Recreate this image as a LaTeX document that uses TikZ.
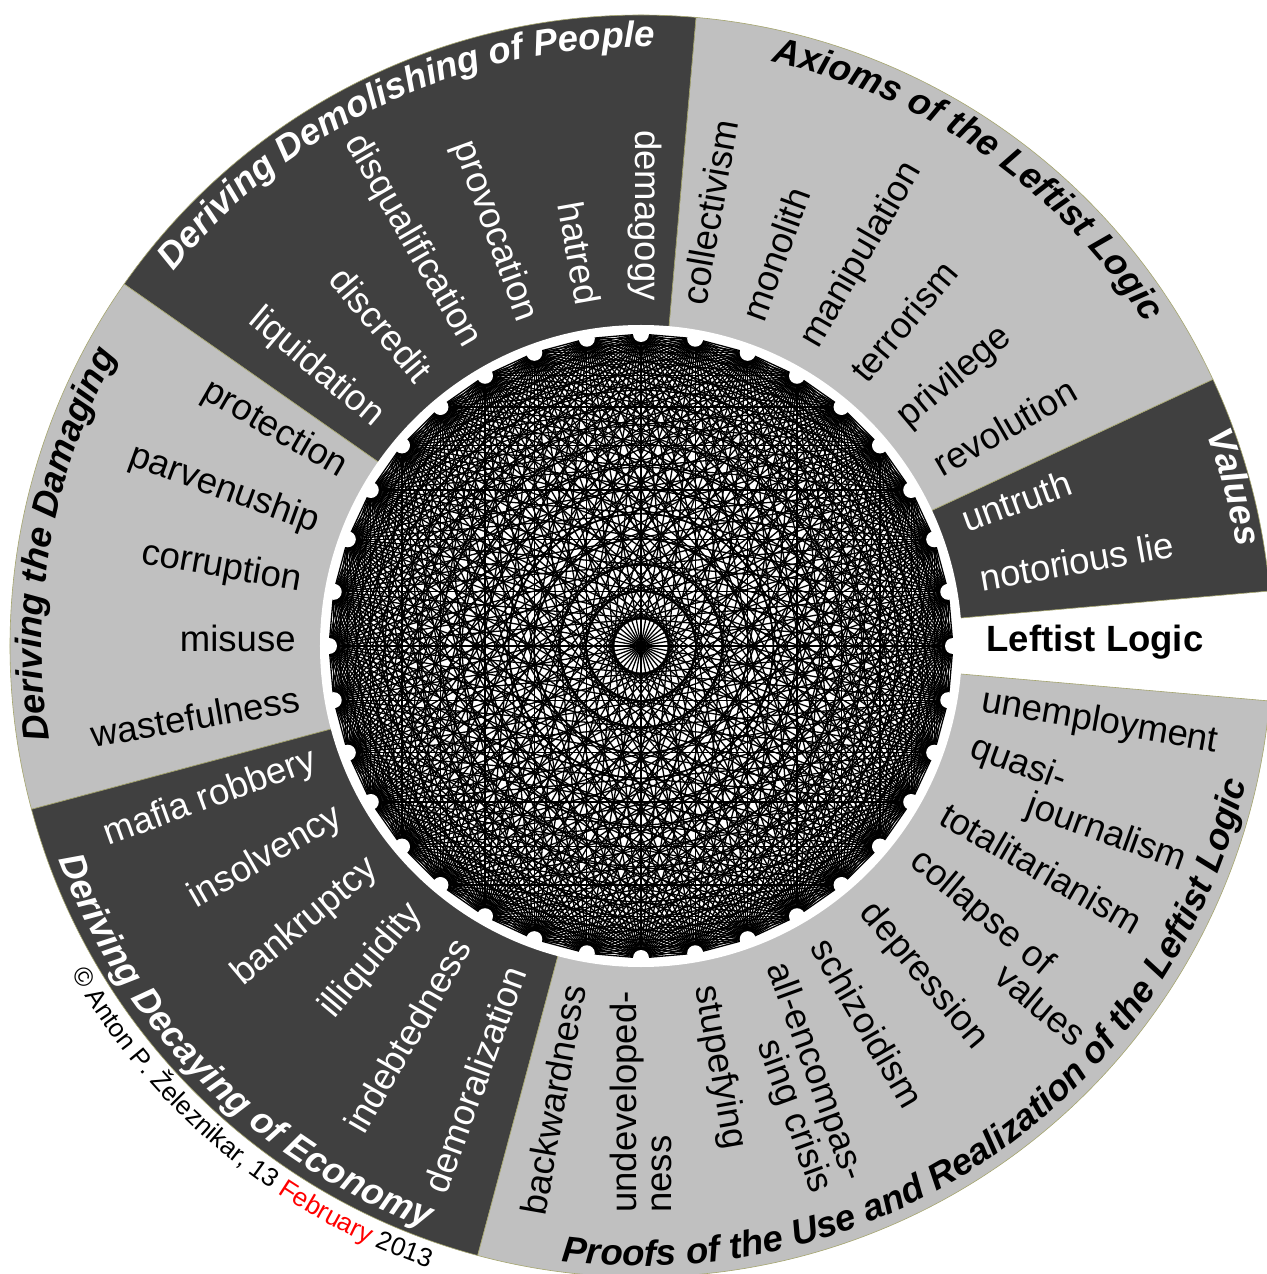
\documentclass[tikz,border=0pt]{standalone}
\usepackage{fontspec}
\setmainfont{Liberation Sans}
\usetikzlibrary{decorations.text}
\definecolor{darksec}{RGB}{64,64,64}
\definecolor{lightsec}{RGB}{192,192,192}
\definecolor{edgecol}{RGB}{165,165,110}
\newcommand\wfont{\fontsize{18.25pt}{17.5pt}\selectfont}
\newcommand\tfont{\fontsize{18.25pt}{20pt}\selectfont\bfseries\itshape}
\newcommand\cfont{\fontsize{13pt}{15pt}\selectfont}
\begin{document}
\begin{tikzpicture}[x=0.5pt,y=0.5pt,
  word/.style={font=\wfont, inner sep=0pt},
  rw/.style={word, anchor=mid west},
  lw/.style={word, anchor=mid east},
  sec/.style={draw=edgecol, line width=0.3pt},
  chord/.style={line width=0.65pt, black},
  dotmark/.style={fill=white}]
\useasboundingbox (-641,-628) rectangle (625,646);
\fill[white] (-641,-628) rectangle (625,646);
% sectors
\foreach \a/\b/\c in {5/25/darksec, 25/85/lightsec, 85/145/darksec, 145/195/lightsec, 195/255/darksec, 255/355/lightsec}{
  \fill[\c] (0,0) -- (\a:631) arc[start angle=\a, end angle=\b, radius=631] -- cycle;
  \draw[sec] (0,0) -- (\a:631) arc[start angle=\a, end angle=\b, radius=631] -- cycle;
}
\fill[white] (0,0) circle (321);
% points
\foreach \k in {0,...,35} \coordinate (p\k) at (\k*10:312);
% chords (complete graph)
\foreach \i in {0,...,34}{
  \pgfmathtruncatemacro\nx{\i+1}
  \foreach \j in {\nx,...,35} \draw[chord] (p\i) -- (p\j);
}
\foreach \k in {0,...,35} \fill[dotmark] (p\k) circle (8);
% words
\node[rw, font=\wfont\bfseries] (w0) at (0:345) {Leftist Logic};
\node[rw, white, rotate=10] (w1) at (10:345) {notorious lie};
\node[rw, white, rotate=20] (w2) at (20:345) {untruth};
\node[rw, rotate=30] (w3) at (30:345) {revolution};
\node[rw, rotate=40] (w4) at (40:345) {privilege};
\node[rw, rotate=50] (w5) at (50:345) {terrorism};
\node[rw, rotate=60] (w6) at (60:345) {manipulation};
\node[rw, rotate=70] (w7) at (70:345) {monolith};
\node[rw, rotate=80] (w8) at (80:345) {collectivism};
\node[lw, white, rotate=270] (w9) at (90:345) {demagogy};
\node[lw, white, rotate=280] (w10) at (100:345) {hatred};
\node[lw, white, rotate=290] (w11) at (110:345) {provocation};
\node[lw, white, rotate=300] (w12) at (120:345) {disqualification};
\node[lw, white, rotate=310] (w13) at (130:345) {discredit};
\node[lw, white, rotate=320] (w14) at (140:345) {liquidation};
\node[lw, rotate=330] (w15) at (150:345) {protection};
\node[lw, rotate=340] (w16) at (160:345) {parvenuship};
\node[lw, rotate=350] (w17) at (170:345) {corruption};
\node[lw, rotate=0] (w18) at (180:345) {misuse};
\node[lw, rotate=10] (w19) at (190:345) {wastefulness};
\node[lw, white, rotate=20] (w20) at (200:345) {mafia robbery};
\node[lw, white, rotate=30] (w21) at (210:345) {insolvency};
\node[lw, white, rotate=40] (w22) at (220:345) {bankruptcy};
\node[lw, white, rotate=50] (w23) at (230:345) {illiquidity};
\node[lw, white, rotate=60] (w24) at (240:345) {indebtedness};
\node[lw, white, rotate=70] (w25) at (250:345) {demoralization};
\node[lw, rotate=80] (w26) at (260:345) {backwardness};
\node[word, anchor=east, align=left, rotate=90] (w27) at (270:345) {undeveloped-\\ness};
\node[rw, rotate=280] (w28) at (280:345) {stupefying};
\node[word, anchor=west, align=right, rotate=290] (w29) at (290:345) {all-encompas-\\sing crisis};
\node[rw, rotate=300] (w30) at (300:345) {schizoidism};
\node[rw, rotate=310] (w31) at (310:345) {depression};
\node[word, anchor=west, align=left, rotate=320] (w32) at (320:345) {collapse of\\\hspace*{3.8em}values};
\node[rw, rotate=330] (w33) at (330:345) {totalitarianism};
\node[word, anchor=west, align=left, rotate=340] (w34) at (340:345) {quasi-\\\hspace*{2em}journalism};
\node[rw, rotate=350] (w35) at (350:345) {unemployment};
% titles along arcs
\path[decorate, decoration={text along path, text align=center,
  text={|\tfont\color{white}|Values}}]
  (25:604) arc[start angle=25, end angle=5, radius=604];
\path[decorate, decoration={text along path, text align=center,
  text={|\tfont|Axioms of the Leftist Logic}}]
  (85:599) arc[start angle=85, end angle=25, radius=599];
\path[decorate, decoration={text along path, text align=center,
  text={|\tfont\color{white}|Deriving Demolishing of People}}]
  (145:599) arc[start angle=145, end angle=85, radius=599];
\path[decorate, decoration={text along path, text align=center,
  text={|\tfont|Deriving the Damaging}}]
  (195:599) arc[start angle=195, end angle=145, radius=599];
\path[decorate, decoration={text along path, text align=center,
  text={|\tfont\color{white}|Deriving Decaying of Economy}}]
  (195:620) arc[start angle=195, end angle=255, radius=620];
\path[decorate, decoration={text along path, text align=center,
  text={|\tfont|Proofs of the Use and Realization of the Leftist Logic}}]
  (255:620) arc[start angle=255, end angle=355, radius=620];
\path[decorate, decoration={text along path, text align=center,
  text={|\cfont|© Anton P. Železnikar, 13 |\cfont\color{red}|February|\cfont| 2013}}]
  (200.5:657) arc[start angle=200.5, end angle=260.5, radius=657];
\end{tikzpicture}
\end{document}
